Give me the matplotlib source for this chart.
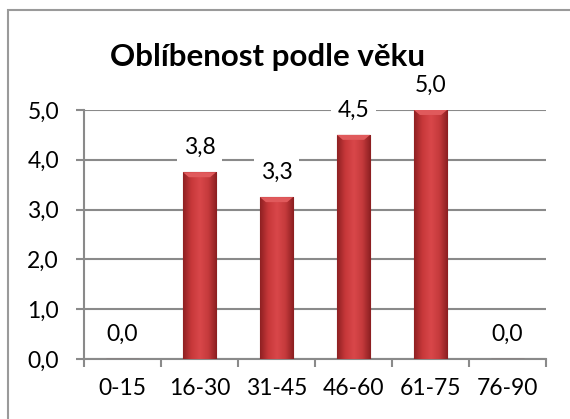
import matplotlib
matplotlib.use("Agg")
import matplotlib.pyplot as plt
import numpy as np
from decimal import Decimal, ROUND_HALF_UP
from matplotlib.colors import LinearSegmentedColormap

categories = ["0-15", "16-30", "31-45", "46-60", "61-75", "76-90"]
values = [0.0, 3.75, 3.25, 4.5, 5.0, 0.0]
y_ticks = [0.0, 1.0, 2.0, 3.0, 4.0, 5.0]
title = "Oblíbenost podle věku"

plt.rcParams['font.family'] = ['Lato', 'DejaVu Sans']
FS = 16.5

def fmt(v):
    d = Decimal(str(v)).quantize(Decimal("0.1"), rounding=ROUND_HALF_UP)
    return str(d).replace(".", ",")

fig = plt.figure(figsize=(5.70, 4.19), dpi=100)
fig.patch.set_facecolor("white")

border = plt.Rectangle((8/570, -0.2), 1.5, 1 - 10/419 + 0.2, transform=fig.transFigure,
                       fill=False, edgecolor="#9a9a9a", linewidth=1.5)
fig.add_artist(border)

ax = fig.add_axes([84/570, 1 - 359/419, (546-84)/570, (359-110)/419])
x = np.arange(len(categories))
bars = ax.bar(x, values, width=0.43, color="#C0393B", edgecolor="#6e1616",
              linewidth=0.8, zorder=3)

cmap = LinearSegmentedColormap.from_list("barg", ["#8e2022", "#c8383a", "#d9474a", "#c53a3c", "#8a1e20"])
grad = np.linspace(0, 1, 256).reshape(1, -1)
for b in bars:
    h = b.get_height()
    if h <= 0:
        continue
    x0, w = b.get_x(), b.get_width()
    im = ax.imshow(grad, extent=[x0, x0 + w, 0, h], aspect="auto", cmap=cmap,
                   zorder=3.5, interpolation="bicubic")
    im.set_clip_path(b)
    ax.add_patch(plt.Polygon([[x0, h], [x0 + w, h], [x0 + w*0.82, h - 0.1], [x0 + w*0.18, h - 0.1]],
                             closed=True, facecolor="#e05a5c", edgecolor="none", zorder=3.6))

ax.set_xlim(-0.5, len(categories) - 0.5)
ax.set_ylim(0, 5)
ax.set_yticks(y_ticks)
ax.set_yticklabels([fmt(t) for t in y_ticks], fontsize=FS)
ax.set_xticks(x)
ax.set_xticklabels(categories, fontsize=FS)
ax.tick_params(axis="x", length=0, pad=14)
ax.set_xticks(np.arange(len(categories) + 1) - 0.5, minor=True)
ax.tick_params(axis="x", which="minor", length=6, width=1.5, color="#8a8a8a", direction="out")
ax.tick_params(axis="y", length=6, width=1.5, color="#8a8a8a", pad=12)
ax.yaxis.grid(True, color="#8a8a8a", linewidth=1.5, zorder=0)
ax.set_axisbelow(True)
for s in ["top", "right"]:
    ax.spines[s].set_visible(False)
for s in ["left", "bottom"]:
    ax.spines[s].set_color("#8a8a8a")
    ax.spines[s].set_linewidth(1.5)

for xi, v in zip(x, values):
    ax.annotate(fmt(v), (xi, v), xytext=(0, 18), textcoords="offset points",
                ha="center", va="center", fontsize=FS, zorder=5,
                bbox=dict(boxstyle="square,pad=0.3", facecolor="white", edgecolor="none"))

fig.text(267/570, 1 - 57/419, title, ha="center", va="center", fontsize=22.5, fontweight="bold")

fig.savefig("out.png", dpi=100)
